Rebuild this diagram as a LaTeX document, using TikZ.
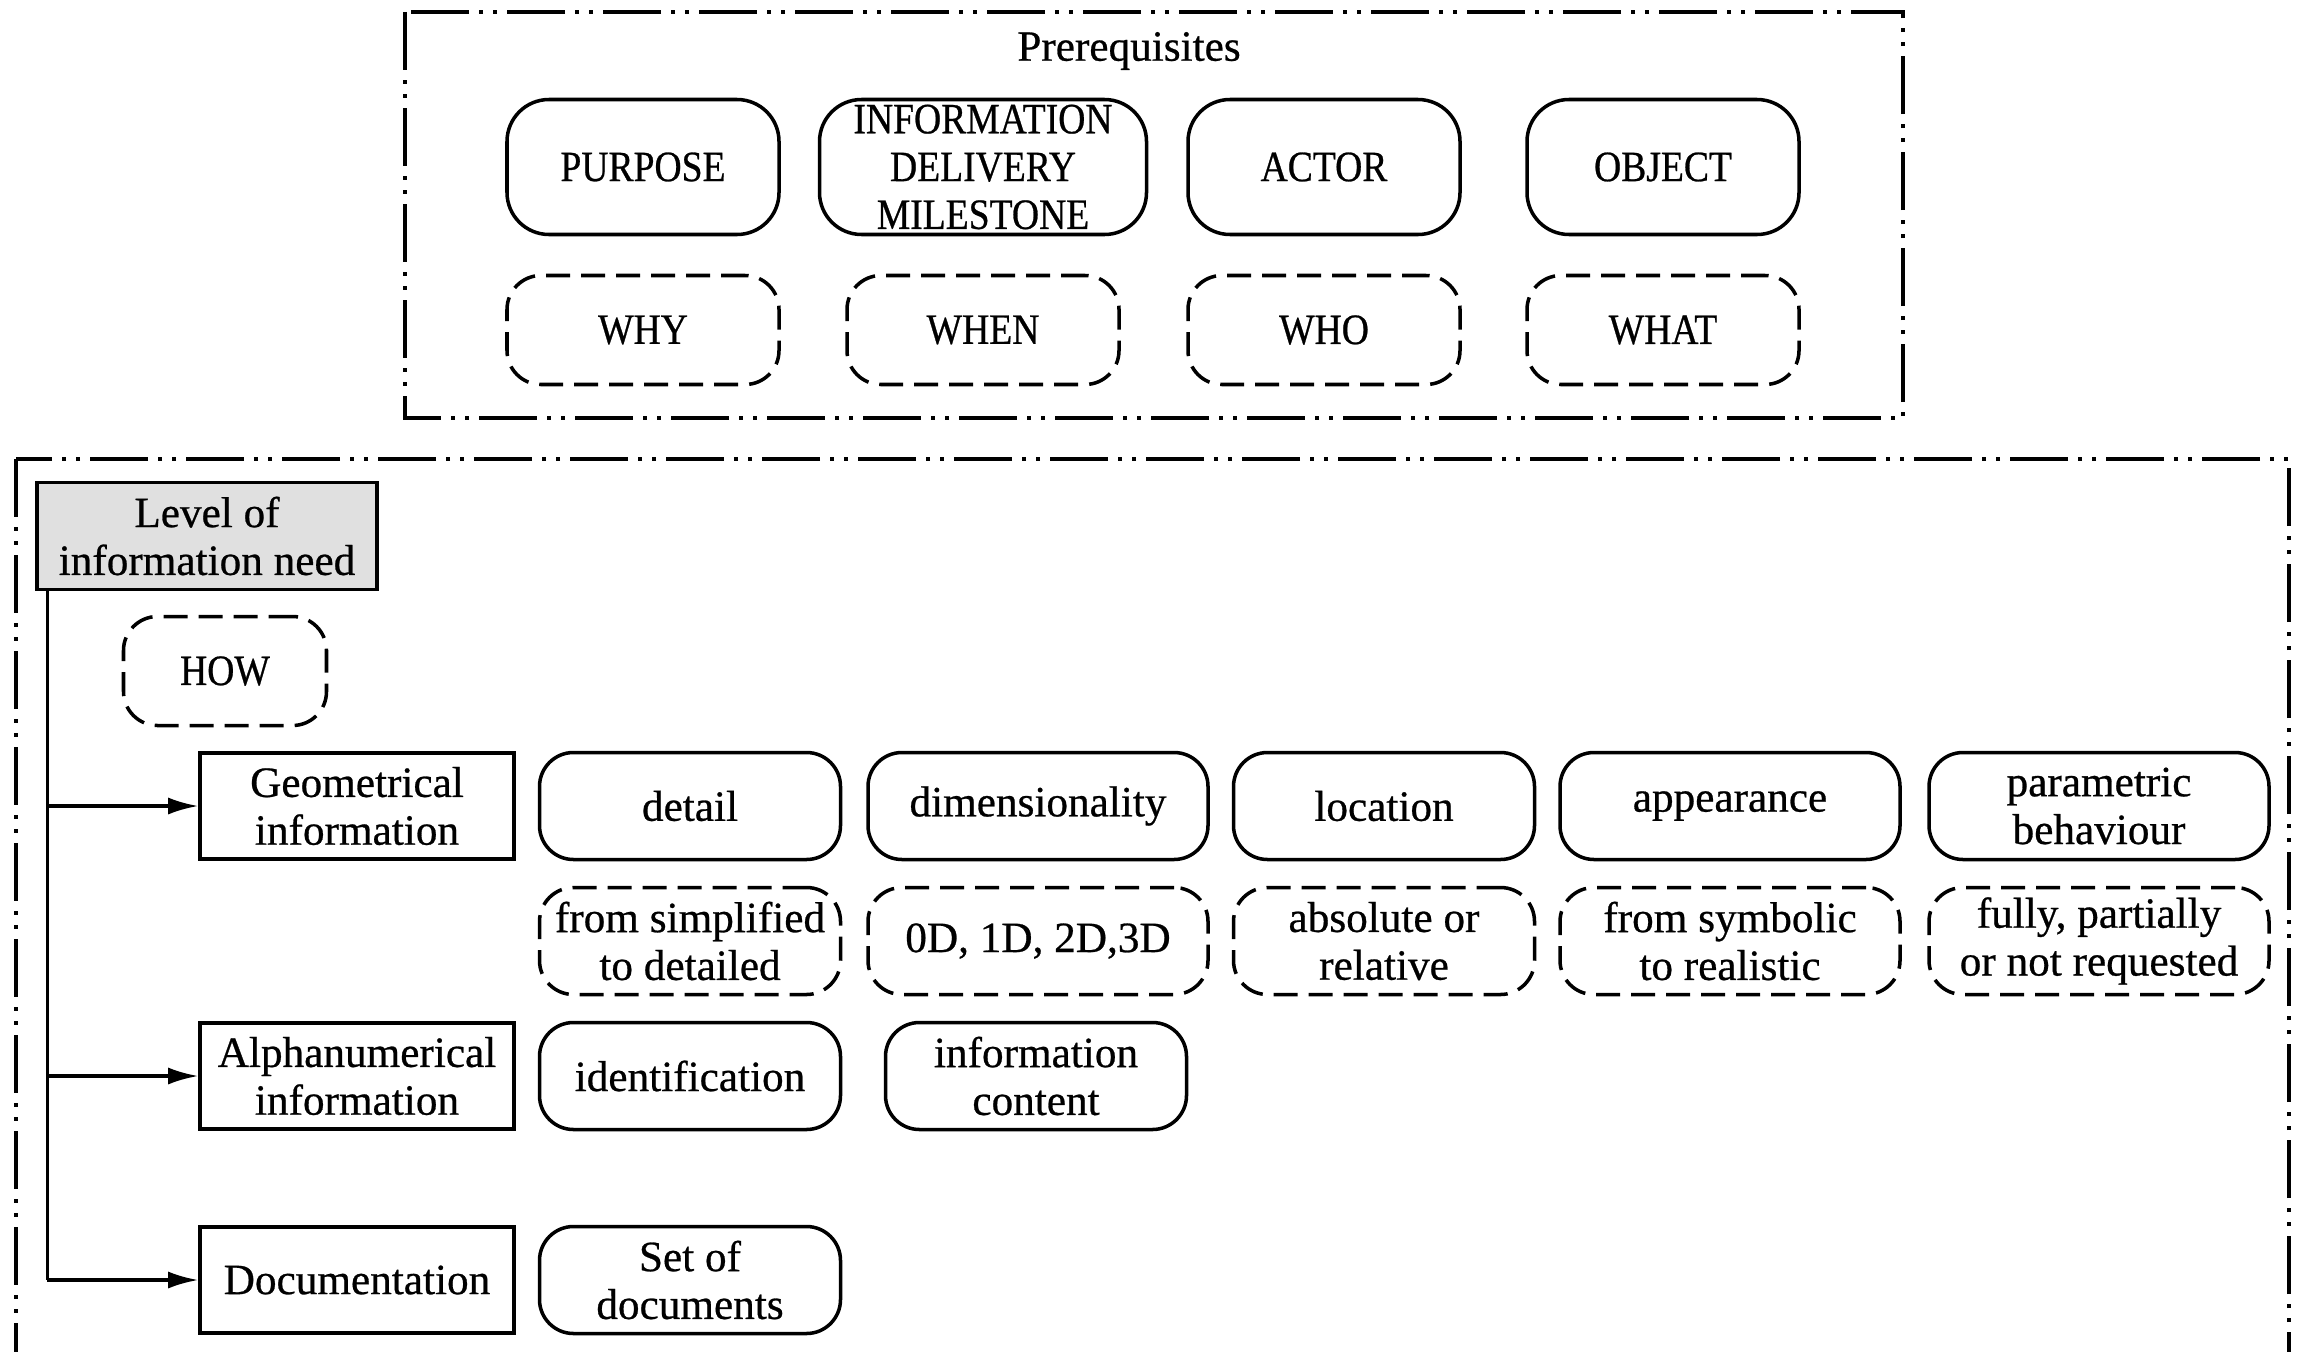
\documentclass[tikz,border=0pt]{standalone}
\usepackage{fontspec}
\setmainfont{Liberation Serif}[FakeBold=0.6]
\newfontfamily\narrowcaps{Liberation Serif}[FakeBold=0.6, FakeStretch=0.87]
\usetikzlibrary{arrows.meta}

\tikzset{
  frame/.style={draw, line width=1.2pt,
    dash pattern=on 5.8mm off 1mm on 0.4mm off 1mm on 0.4mm off 1mm},
  pill/.style={draw, line width=1pt, rounded corners=0.34cm, align=center,
    inner sep=0pt, minimum width=3.01cm, minimum height=1.07cm},
  dashpill/.style={pill, dash pattern=on 2.4mm off 1.1mm},
  bigpill/.style={pill, rounded corners=0.42cm, minimum width=2.72cm, minimum height=1.35cm},
  caps/.style={font=\fontsize{12.3pt}{13.6pt}\narrowcaps},
  catbox/.style={draw, line width=1pt, align=center, inner sep=0pt,
    minimum width=3.14cm, minimum height=1.06cm},
  arr/.style={line width=0.9pt, -{Latex[length=3mm,width=1.7mm]}}
}

\begin{document}
\begin{tikzpicture}[every node/.style={font=\fontsize{12.3pt}{13.6pt}\selectfont}]
  \useasboundingbox (0,0) rectangle (23.01,-13.51);
  \clip (0,0) rectangle (23.01,-13.51);
  \fill[white] (0,0) rectangle (23.01,-13.51);

  % prerequisites
  \draw[frame] (4.05,-0.12) rectangle (19.03,-4.18);
  \node (pre) at (11.29,-0.51) {Prerequisites};

  \node[bigpill, caps] (purpose) at (6.43,-1.67)  {PURPOSE};
  \node[bigpill, caps, minimum width=3.27cm] (idm) at (9.83,-1.67) {INFORMATION\\DELIVERY\\MILESTONE};
  \node[bigpill, caps] (actor)   at (13.24,-1.67) {ACTOR};
  \node[bigpill, caps] (object)  at (16.63,-1.67) {OBJECT};

  \node[dashpill, caps, minimum width=2.72cm, minimum height=1.09cm] (why)  at (6.43,-3.30)  {WHY};
  \node[dashpill, caps, minimum width=2.72cm, minimum height=1.09cm] (when) at (9.83,-3.30)  {WHEN};
  \node[dashpill, caps, minimum width=2.72cm, minimum height=1.09cm] (who)  at (13.24,-3.30) {WHO};
  \node[dashpill, caps, minimum width=2.72cm, minimum height=1.09cm] (what) at (16.63,-3.30) {WHAT};

  % level of information need
  \draw[frame] (0.16,-4.59) rectangle (22.89,-14.2);
  \node[catbox, fill=black!12, minimum width=3.40cm, minimum height=1.07cm] (lvl) at (2.07,-5.36)
    {Level of\\information need};
  \node[dashpill, caps, minimum width=2.03cm, minimum height=1.09cm] (how) at (2.25,-6.71) {HOW};

  \node[catbox] (geo)   at (3.57,-8.06)  {Geometrical\\information};
  \node[catbox] (alpha) at (3.57,-10.76) {Alphanumerical\\information};
  \node[catbox] (doc)   at (3.57,-12.80) {Documentation};

  \node[pill] (detail) at (6.90,-8.06) {detail};
  \node[pill, minimum width=3.40cm] (dim) at (10.38,-8.06) {dimensionality};
  \node[pill] (loc) at (13.84,-8.06) {location};
  \node[pill, minimum width=3.40cm] (app) at (17.30,-8.06) {appearance};
  \node[pill, minimum width=3.40cm] (par) at (20.99,-8.06) {parametric\\behaviour};

  \node[dashpill] (detailv) at (6.90,-9.41) {from simplified\\to detailed};
  \node[dashpill, minimum width=3.40cm] (dimv) at (10.38,-9.41) {0D, 1D, 2D,3D};
  \node[dashpill] (locv) at (13.84,-9.41) {absolute or\\relative};
  \node[dashpill, minimum width=3.40cm] (appv) at (17.30,-9.41) {from symbolic\\to realistic};
  \node[dashpill, minimum width=3.40cm] (parv) at (20.99,-9.41) {fully, partially\\or not requested};

  \node[pill] (ident) at (6.90,-10.76) {identification};
  \node[pill] (cont) at (10.36,-10.76) {information\\content};

  \node[pill] (docs) at (6.90,-12.80) {Set of\\documents};

  % spine with branches
  \coordinate (spine) at ([xshift=0.12cm]lvl.south west);
  \draw[line width=0.9pt] (spine) -- (spine |- doc);
  \foreach \c in {geo,alpha,doc}
    \draw[arr] (spine |- \c) -- (\c);
\end{tikzpicture}
\end{document}
